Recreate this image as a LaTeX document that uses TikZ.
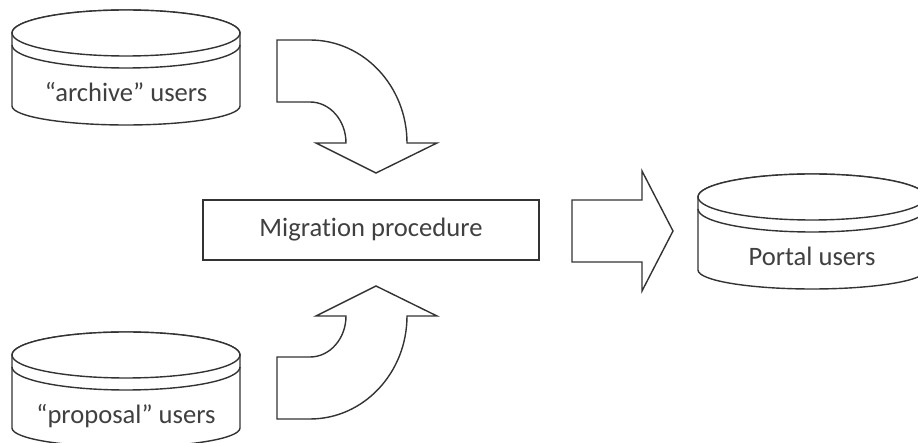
\documentclass[tikz,border=0pt]{standalone}
\usepackage{fontspec}
\setmainfont[Ligatures=NoCommon]{Carlito}
\definecolor{linegray}{HTML}{333333}
\definecolor{textgray}{HTML}{404040}
\tikzset{
	outline/.style={draw=linegray, line width=0.7pt, fill=white, line join=miter},
	lbl/.style={text=textgray, font=\fontsize{13.3}{16}\selectfont, inner sep=0pt},
	userdb/.pic={
		\path[outline] (-114,0) -- (-114,-73)
			arc[start angle=180, end angle=360, x radius=114, y radius=19] -- (114,0)
			arc[start angle=0, end angle=180, x radius=114, y radius=23] -- cycle;
		\draw[outline] (0,0) ellipse[x radius=114, y radius=23];
		\draw[outline, fill=none] (-114,-12) arc[start angle=180, end angle=360, x radius=114, y radius=23];
		\node[lbl, anchor=base] (-txt) at (0,-69) {#1};
	},
}

\begin{document}
\begin{tikzpicture}[x=0.5pt, y=0.5pt]

		\useasboundingbox (0,0) rectangle (918,-443);
		\clip (0,0) rectangle (918,-443);

		% Sources
		\pic (archive) at (126,-33) {userdb={“archive” users}};
		\pic (proposal) at (126,-355) {userdb={“proposal” users}};

		% Procedure
		\node[outline, lbl, minimum width=168pt, minimum height=30pt] (migration) at (371,-230) {Migration procedure};

		% Target
		\pic (portal) at (812,-197) {userdb={Portal users}};

		% Block arrows
		\coordinate (archiveout) at (277,-40);
		\coordinate (proposalout) at (277,-419);
		\coordinate (migrationout) at (572,-200);
		\path[outline] (archiveout) -- ++(33,0)
			arc[start angle=90, end angle=0, x radius=97, y radius=103] -- ++(30,0)
			-- ++(-61,-30) -- ++(-60,30) -- ++(30,0)
			arc[start angle=0, end angle=90, x radius=36, y radius=41] -- ++(-33,0) -- cycle;
		\path[outline] (proposalout) -- ++(33,0)
			arc[start angle=-90, end angle=0, x radius=97, y radius=103] -- ++(30,0)
			-- ++(-61,30) -- ++(-60,-30) -- ++(30,0)
			arc[start angle=0, end angle=-90, x radius=36, y radius=41] -- ++(-33,0) -- cycle;
		\path[outline] (migrationout) -- ++(70,0) -- ++(0,29) -- ++(31,-60) -- ++(-31,-60)
			-- ++(0,29) -- ++(-70,0) -- cycle;

	\end{tikzpicture}
\end{document}
